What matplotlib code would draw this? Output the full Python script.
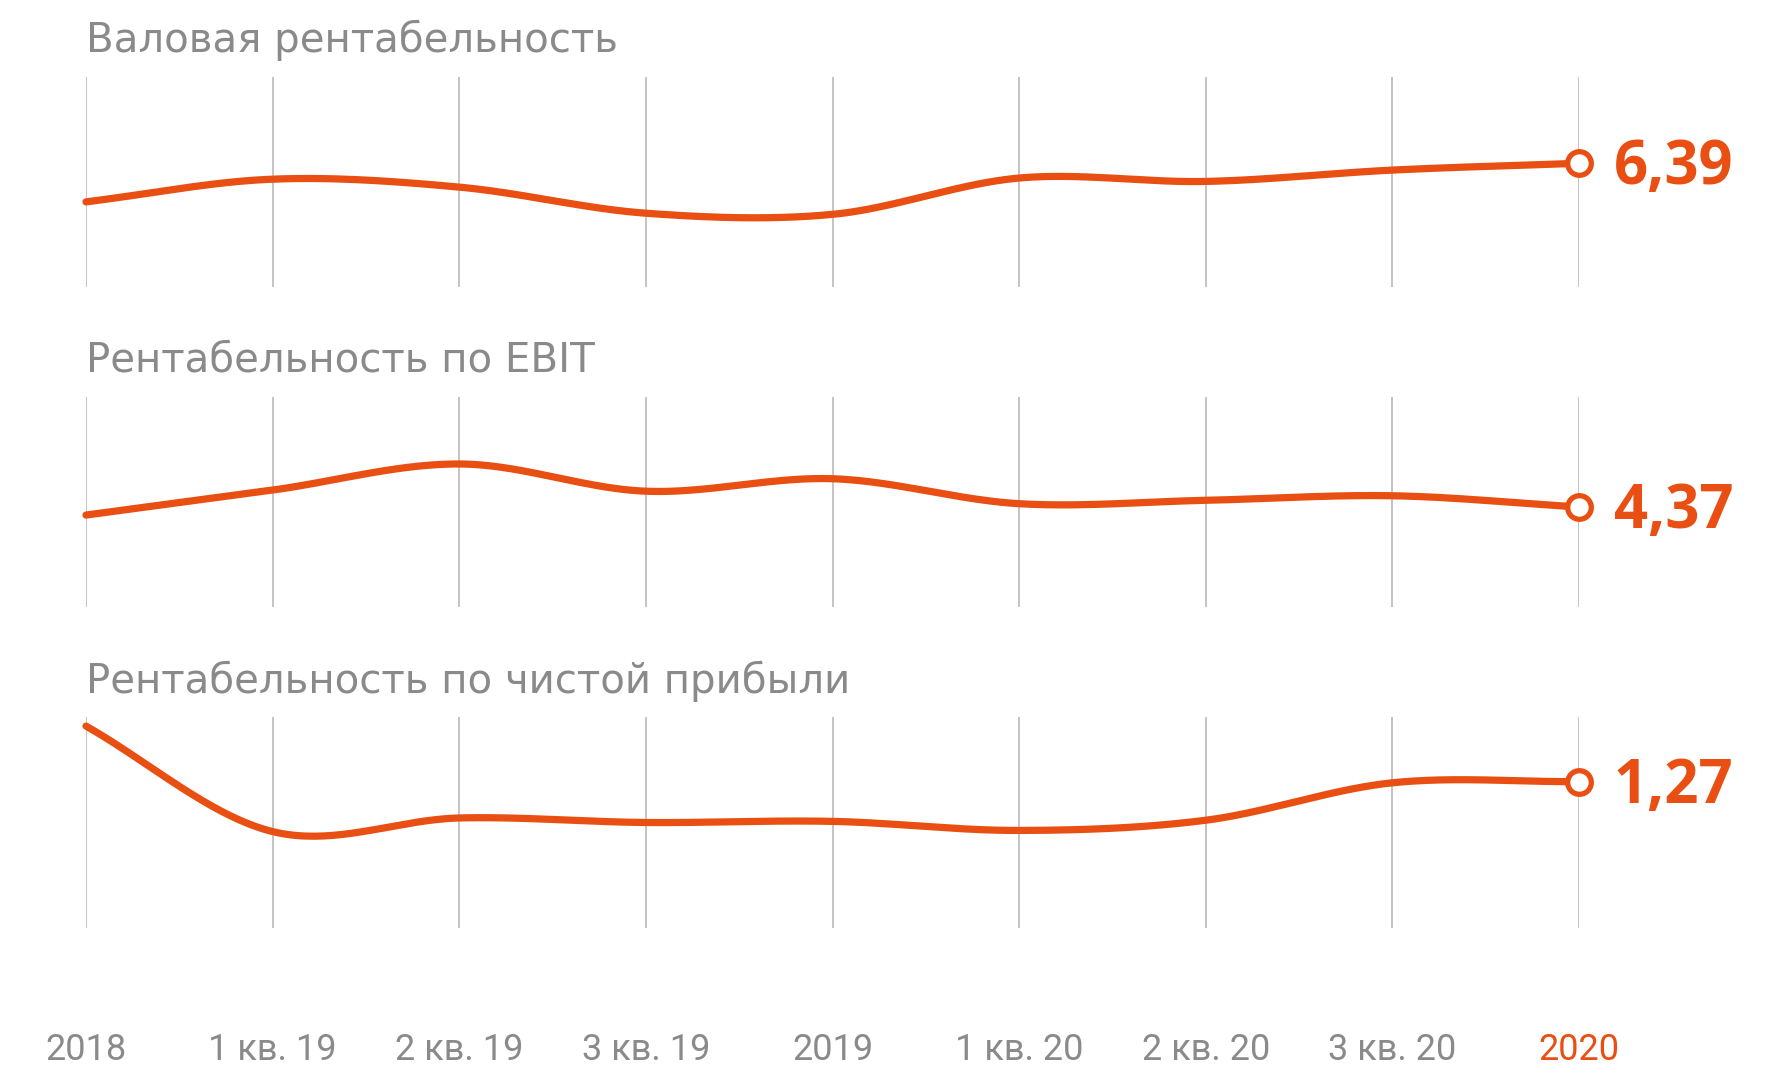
import numpy as np
import matplotlib
matplotlib.use("Agg")
import matplotlib.pyplot as plt

ORANGE = "#E94E12"
GRAY = "#8a8a8a"
GRID = "#b4b4b4"

periods = ["2018", "1 кв. 19", "2 кв. 19", "3 кв. 19", "2019",
           "1 кв. 20", "2 кв. 20", "3 кв. 20", "2020"]

titles = ["Валовая рентабельность",
          "Рентабельность по EBIT",
          "Рентабельность по чистой прибыли"]

gross = [6.05, 6.25, 6.18, 5.95, 5.94, 6.26, 6.23, 6.33, 6.39]
ebit = [4.30, 4.52, 4.75, 4.51, 4.62, 4.40, 4.43, 4.47, 4.37]
net = [1.76, 0.83, 0.95, 0.91, 0.92, 0.84, 0.93, 1.26, 1.27]

series = [gross, ebit, net]
ylims = [(5.30, 7.15), (3.49, 5.34), (-0.02, 1.84)]
end_labels = ["6,39", "4,37", "1,27"]


def catmull_rom(x, y, n=40):
    """Uniform Catmull-Rom spline through the points."""
    x = np.asarray(x, float)
    y = np.asarray(y, float)
    px = np.concatenate([[2 * x[0] - x[1]], x, [2 * x[-1] - x[-2]]])
    py = np.concatenate([[2 * y[0] - y[1]], y, [2 * y[-1] - y[-2]]])
    xs, ys = [], []
    t = np.linspace(0, 1, n, endpoint=False)
    for i in range(1, len(px) - 2):
        for p, out in ((px, xs), (py, ys)):
            p0, p1, p2, p3 = p[i - 1], p[i], p[i + 1], p[i + 2]
            out.append(0.5 * (2 * p1 + (-p0 + p2) * t
                              + (2 * p0 - 5 * p1 + 4 * p2 - p3) * t ** 2
                              + (-p0 + 3 * p1 - 3 * p2 + p3) * t ** 3))
    xs = np.concatenate(xs + [[x[-1]]])
    ys = np.concatenate(ys + [[y[-1]]])
    return xs, ys


W, H = 1779, 1066
fig = plt.figure(figsize=(W / 100, H / 100), dpi=100)

left = 86 / W
width = (1579 - 86) / W
panel_px = [(77, 287), (397, 607), (717, 928)]
title_y = [40, 361, 681]

x = np.arange(len(periods))
for i, (top, bot) in enumerate(panel_px):
    ax = fig.add_axes([left, 1 - bot / H, width, (bot - top) / H])
    ax.set_xlim(0, len(periods) - 1)
    ax.set_ylim(*ylims[i])
    for xi in x:
        ax.axvline(xi, color=GRID, lw=1.1, zorder=1)
    sx, sy = catmull_rom(x, series[i])
    ax.plot(sx, sy, color=ORANGE, lw=5.2, solid_capstyle="round",
            zorder=3, clip_on=False)
    ax.plot(x[-1], series[i][-1], "o", ms=17, mfc="white", mec=ORANGE,
            mew=3.8, zorder=4, clip_on=False)
    ax.annotate(end_labels[i], (x[-1], series[i][-1]), xytext=(25, -4),
                textcoords="offset points", va="center", ha="left",
                fontsize=43, fontweight="bold", color=ORANGE,
                family="Open Sans")
    ax.axis("off")
    fig.text(left, 1 - title_y[i] / H, titles[i], fontsize=29, color=GRAY,
             va="center", ha="left", family="DejaVu Sans")

# period labels along the bottom
for xi, lab in zip(x, periods):
    c = ORANGE if xi == x[-1] else GRAY
    fx = left + width * xi / (len(periods) - 1)
    fig.text(fx, 1 - 1050 / H, lab, fontsize=26, color=c,
             ha="center", va="center", family="Roboto")

fig.savefig("out.png", dpi=100, facecolor="white")
